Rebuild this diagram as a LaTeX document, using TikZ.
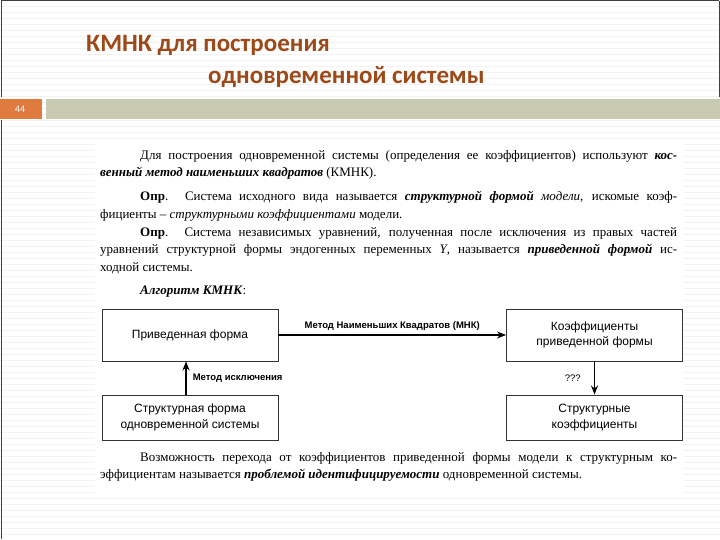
\documentclass[tikz,border=0pt]{standalone}
\usepackage{fontspec}
\setmainfont{Liberation Serif}
\newfontfamily\titlefont{Carlito}
\newfontfamily\boxfont{Liberation Sans}
\usetikzlibrary{arrows.meta}
\definecolor{titlec}{HTML}{9C4A18}
\definecolor{orangebar}{HTML}{E07B40}
\definecolor{greenbar}{HTML}{C9CAB2}
\tikzset{
  box/.style={draw=black!80, line width=0.9pt, minimum width=176pt, minimum height=52pt, inner sep=0pt, align=center, font=\boxfont\fontsize{12}{15.5}\selectfont},
  arr/.style={line width=1.6pt, -{Stealth[length=9pt,width=7pt]}},
  lbl/.style={font=\boxfont\bfseries\fontsize{9.5}{11}\selectfont, inner sep=1pt},
  para/.style={anchor=north west, text width=577pt, align=justify, inner sep=0pt, font=\fontsize{13}{17.5}\selectfont}
}
\begin{document}
\begin{tikzpicture}[x=1pt,y=-1pt]
\useasboundingbox (0,0) rectangle (720,540);
\fill[white] (0,0) rectangle (720,540);
\foreach \yy in {6,12,...,540} \draw[black!5, line width=0.5pt] (0,\yy) -- (720,\yy);
\draw[black!75, line width=1pt] (1,1) -- (719,1);
\draw[black!75, line width=1pt] (1,1) -- (1,97);
\draw[black!75, line width=1pt] (719,1) -- (719,97);
\draw[black!75, line width=1pt] (1,120) -- (1,539);
\node[anchor=base west, text=titlec, font=\titlefont\bfseries\fontsize{25}{30}\selectfont, inner sep=0pt] (t1) at (86,52) {КМНК для построения};
\node[anchor=base west, text=titlec, font=\titlefont\bfseries\fontsize{25}{30}\selectfont, inner sep=0pt] (t2) at (208,84) {одновременной системы};
\fill[orangebar] (0,99) rectangle (42,119);
\node[text=white, font=\titlefont\fontsize{10}{11}\selectfont] (num) at (20,109) {44};
\fill[greenbar] (46,99) rectangle (720,119);
\fill[white] (95,140) rectangle (684,495);
\node[para] (p1) at (100,150) {\hspace*{40pt}Для построения одновременной системы (определения ее коэффициентов) используют \textbf{\textit{кос-\linebreak венный метод наименьших квадратов}} (КМНК).};
\node[para] (p2) at (100,191) {\hspace*{40pt}\textbf{Опр}. Система исходного вида называется \textbf{\textit{структурной формой}} \textit{модели}, искомые коэф-\linebreak фициенты -- \textit{структурными коэффициентами} модели.};
\node[para] (p3) at (100,227) {\hspace*{40pt}\textbf{Опр}. Система независимых уравнений, полученная после исключения из правых частей уравнений структурной формы эндогенных переменных \textit{Y}, называется \textbf{\textit{приведенной формой}} ис-\linebreak ходной системы.};
\node[para] (p4) at (100,286) {\hspace*{40pt}\textbf{\textit{Алгоритм КМНК}}:};
\node[box] (pf) at (190,335) {Приведенная форма};
\node[box] (kp) at (594.5,335) {Коэффициенты\\приведенной формы};
\node[box, minimum height=45pt] (sf) at (190,417.5) {Структурная форма\\одновременной системы};
\node[box, minimum height=45pt] (sk) at (594.5,417.5) {Структурные\\коэффициенты};
\draw[arr] (pf) -- node[lbl, above=3pt] {Метод Наименьших Квадратов (МНК)} (kp);
\draw[arr] (sf.north -| 186,0) -- (pf.south -| 186,0) node[lbl, midway, right=5pt] {Метод исключения};
\draw[arr] (kp) -- node[lbl, left=12pt, font=\boxfont\fontsize{9.5}{11}\selectfont] {???} (sk);
\node[para] (p5) at (100,452) {\hspace*{40pt}Возможность перехода от коэффициентов приведенной формы модели к структурным ко-\linebreak эффициентам называется \textbf{\textit{проблемой идентифицируемости}} одновременной системы.};
\end{tikzpicture}
\end{document}
